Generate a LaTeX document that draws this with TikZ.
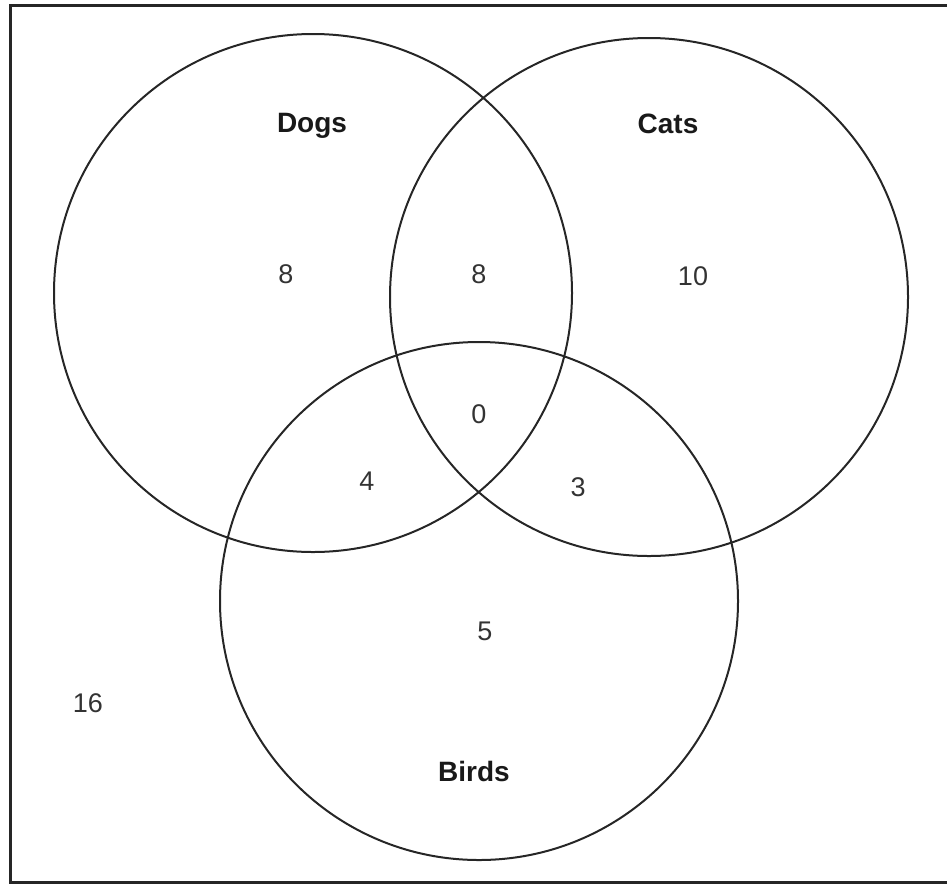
\documentclass[tikz,border=0pt]{standalone}
\usepackage{fontspec}
\setmainfont{Liberation Sans}
\begin{document}
\begin{tikzpicture}[x=1pt,y=-1pt,
  setcircle/.style={draw=black!85,line width=2pt},
  numlabel/.style={anchor=base,inner sep=0pt,text=black!80,font=\fontsize{27}{30}\selectfont},
  setlabel/.style={anchor=base,inner sep=0pt,text=black!90,font=\fontsize{28}{30}\selectfont\bfseries},
  frame/.style={draw=black!85,line width=3pt}]
\useasboundingbox (0,0) rectangle (947,884);
\draw[frame] (10,5.5) rectangle (952,882.5);
% circles
\node[setcircle,circle,minimum size=518pt,inner sep=0pt] (dogs) at (313,293) {};
\node[setcircle,circle,minimum size=518pt,inner sep=0pt] (cats) at (649,297) {};
\node[setcircle,circle,minimum size=518pt,inner sep=0pt] (birds) at (479,601) {};
% set labels
\node[setlabel] (ldogs) at (312,132) {Dogs};
\node[setlabel] (lcats) at (668,133) {Cats};
\node[setlabel] (lbirds) at (474,781) {Birds};
% counts
\node[numlabel] (n1) at (286,283.5) {8};
\node[numlabel] (n2) at (479,283) {8};
\node[numlabel] (n3) at (693,285) {10};
\node[numlabel] (n4) at (479,423) {0};
\node[numlabel] (n5) at (367,490) {4};
\node[numlabel] (n6) at (578,496) {3};
\node[numlabel] (n7) at (485,640) {5};
\node[numlabel] (n8) at (88,712) {16};
\end{tikzpicture}
\end{document}
